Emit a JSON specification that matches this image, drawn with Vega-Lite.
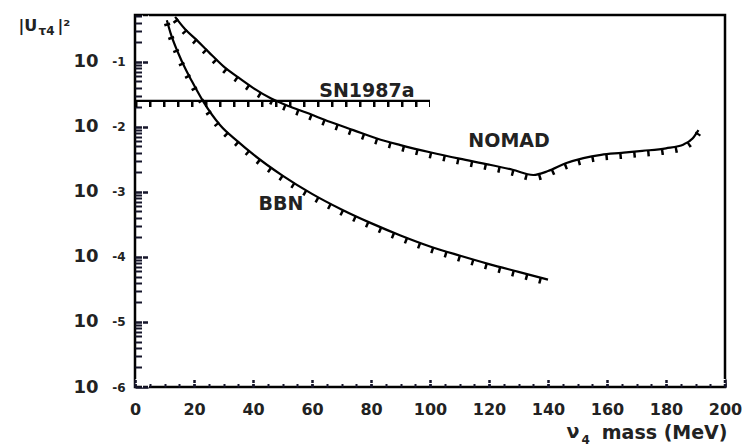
{
  "$schema": "https://vega.github.io/schema/vega-lite/v6.json",
  "width": 590,
  "height": 372,
  "autosize": {"type": "none"},
  "padding": {"left": 135, "top": 15, "right": 23, "bottom": 58},
  "background": "white",
  "config": {
    "view": {"stroke": "black", "strokeWidth": 2.5},
    "axis": {"grid": false, "labelFont": "DejaVu Sans", "labelFontWeight": "bold", "labelColor": "#222", "titleFont": "DejaVu Sans", "titleFontWeight": "bold", "titleColor": "#222", "labelFlush": false, "labelOverlap": false}
  },
  "datasets": {
    "curves": [
      {"limit": "BBN", "mass": 10.8, "u2": 0.437},
      {"limit": "BBN", "mass": 12, "u2": 0.282},
      {"limit": "BBN", "mass": 14.6, "u2": 0.138},
      {"limit": "BBN", "mass": 17, "u2": 0.0794},
      {"limit": "BBN", "mass": 19.3, "u2": 0.0501},
      {"limit": "BBN", "mass": 23, "u2": 0.0251},
      {"limit": "BBN", "mass": 28.8, "u2": 0.0107},
      {"limit": "BBN", "mass": 35, "u2": 0.00589},
      {"limit": "BBN", "mass": 40, "u2": 0.0038},
      {"limit": "BBN", "mass": 50, "u2": 0.00178},
      {"limit": "BBN", "mass": 60, "u2": 0.000933},
      {"limit": "BBN", "mass": 70, "u2": 0.000537},
      {"limit": "BBN", "mass": 80, "u2": 0.000331},
      {"limit": "BBN", "mass": 90, "u2": 0.000214},
      {"limit": "BBN", "mass": 100, "u2": 0.000145},
      {"limit": "BBN", "mass": 110, "u2": 0.000105},
      {"limit": "BBN", "mass": 120, "u2": 0.0000776},
      {"limit": "BBN", "mass": 130, "u2": 0.0000589},
      {"limit": "BBN", "mass": 140, "u2": 0.0000447},
      {"limit": "NOMAD", "mass": 13.6, "u2": 0.49},
      {"limit": "NOMAD", "mass": 17, "u2": 0.316},
      {"limit": "NOMAD", "mass": 21, "u2": 0.214},
      {"limit": "NOMAD", "mass": 25, "u2": 0.141},
      {"limit": "NOMAD", "mass": 30, "u2": 0.0851},
      {"limit": "NOMAD", "mass": 35, "u2": 0.0575},
      {"limit": "NOMAD", "mass": 40, "u2": 0.0398},
      {"limit": "NOMAD", "mass": 46, "u2": 0.0275},
      {"limit": "NOMAD", "mass": 52, "u2": 0.0209},
      {"limit": "NOMAD", "mass": 58, "u2": 0.0166},
      {"limit": "NOMAD", "mass": 66, "u2": 0.012},
      {"limit": "NOMAD", "mass": 74, "u2": 0.00891},
      {"limit": "NOMAD", "mass": 82, "u2": 0.00661},
      {"limit": "NOMAD", "mass": 90, "u2": 0.00525},
      {"limit": "NOMAD", "mass": 100, "u2": 0.00407},
      {"limit": "NOMAD", "mass": 110, "u2": 0.00324},
      {"limit": "NOMAD", "mass": 120, "u2": 0.00263},
      {"limit": "NOMAD", "mass": 128, "u2": 0.00219},
      {"limit": "NOMAD", "mass": 135, "u2": 0.00182},
      {"limit": "NOMAD", "mass": 140, "u2": 0.00209},
      {"limit": "NOMAD", "mass": 146, "u2": 0.00275},
      {"limit": "NOMAD", "mass": 152, "u2": 0.00331},
      {"limit": "NOMAD", "mass": 158, "u2": 0.00372},
      {"limit": "NOMAD", "mass": 165, "u2": 0.00398},
      {"limit": "NOMAD", "mass": 172, "u2": 0.00427},
      {"limit": "NOMAD", "mass": 180, "u2": 0.00468},
      {"limit": "NOMAD", "mass": 186, "u2": 0.00537},
      {"limit": "NOMAD", "mass": 189, "u2": 0.00661},
      {"limit": "NOMAD", "mass": 191, "u2": 0.00891},
      {"limit": "SN1987a", "mass": 0, "u2": 0.0251},
      {"limit": "SN1987a", "mass": 100, "u2": 0.0251}
    ],
    "labels": [
      {"label": "SN1987a", "mass": 78.6, "u2": 0.0358},
      {"label": "NOMAD", "mass": 126.8, "u2": 0.0061},
      {"label": "BBN", "mass": 49.5, "u2": 0.000653}
    ]
  },
  "layer": [
    {
      "data": {"name": "curves"},
      "mark": {"type": "line", "color": "black", "strokeWidth": 2.2, "interpolate": "monotone", "clip": true},
      "encoding": {
        "x": {"field": "mass", "type": "quantitative", "scale": {"domain": [0, 200], "nice": false},
          "axis": {"orient": "bottom", "offset": -8, "values": [0, 20, 40, 60, 80, 100, 120, 140, 160, 180, 200], "domain": true, "domainColor": "white", "domainWidth": 1, "tickColor": "#15152a", "tickSize": 8, "tickWidth": 2.5, "labelPadding": 14, "labelFontSize": 16, "labelBaseline": "top", "labelAlign": "center",
            "title": "ν", "titleX": 431, "titleY": 58, "titleAlign": "left", "titleBaseline": "alphabetic", "titleFontSize": 19}},
        "y": {"field": "u2", "type": "quantitative", "scale": {"type": "log", "domain": [0.000001, 0.525], "nice": false},
          "axis": {"orient": "left", "offset": -13, "values": [0.000001, 0.00001, 0.0001, 0.001, 0.01, 0.1], "domain": true, "domainColor": "white", "domainWidth": 1, "tickColor": "#15152a", "tickSize": 13, "tickWidth": 2.5, "labelExpr": "'10'", "labelPadding": 37, "labelFontSize": 18, "labelAlign": "right", "labelBaseline": "middle",
            "title": "|U", "titleAngle": 0, "titleX": -130, "titleY": 15, "titleAlign": "left", "titleBaseline": "alphabetic", "titleFontSize": 16}},
        "detail": {"field": "limit"}
      }
    },
    {
      "data": {"name": "curves"},
      "mark": {"type": "line", "color": "black", "strokeWidth": 6, "strokeDash": [2.5, 11.5], "yOffset": 3, "interpolate": "monotone", "clip": true},
      "encoding": {
        "x": {"field": "mass", "type": "quantitative",
          "axis": {"orient": "bottom", "offset": -4, "values": [0, 5, 10, 15, 20, 25, 30, 35, 40, 45, 50, 55, 60, 65, 70, 75, 80, 85, 90, 95, 100, 105, 110, 115, 120, 125, 130, 135, 140, 145, 150, 155, 160, 165, 170, 175, 180, 185, 190, 195, 200], "domain": true, "domainColor": "white", "domainWidth": 1, "tickColor": "#15152a", "tickSize": 4, "tickWidth": 2, "labels": false,
            "title": "4", "titleX": 446, "titleY": 60, "titleAlign": "left", "titleBaseline": "alphabetic", "titleFontSize": 12}},
        "y": {"field": "u2", "type": "quantitative",
          "axis": {"orient": "left", "values": [0.000001, 0.00001, 0.0001, 0.001, 0.01, 0.1], "domain": false, "ticks": false, "tickSize": 0, "labelExpr": "'' + round(log(datum.value) / LN10)", "labelPadding": 10, "labelFontSize": 12, "labelAlign": "right", "labelBaseline": "middle", "labelDy": -14,
            "title": "τ4", "titleAngle": 0, "titleX": -97, "titleY": 19, "titleAlign": "left", "titleBaseline": "alphabetic", "titleFontSize": 12}},
        "detail": {"field": "limit"}
      }
    },
    {
      "data": {"name": "labels"},
      "mark": {"type": "text", "font": "DejaVu Sans", "fontWeight": "bold", "fontSize": 19, "color": "#222", "align": "center", "baseline": "middle"},
      "encoding": {
        "x": {"field": "mass", "type": "quantitative",
          "axis": {"orient": "bottom", "domain": false, "ticks": false, "labels": false,
            "title": "mass (MeV)", "titleX": 592, "titleY": 51, "titleAlign": "right", "titleBaseline": "alphabetic", "titleFontSize": 19}},
        "y": {"field": "u2", "type": "quantitative",
          "axis": {"orient": "left", "offset": -7, "values": [0.000002, 0.000003, 0.000004, 0.000005, 0.000006, 0.000007, 0.000008, 0.000009, 0.00002, 0.00003, 0.00004, 0.00005, 0.00006, 0.00007, 0.00008, 0.00009, 0.0002, 0.0003, 0.0004, 0.0005, 0.0006, 0.0007, 0.0008, 0.0009, 0.002, 0.003, 0.004, 0.005, 0.006, 0.007, 0.008, 0.009, 0.02, 0.03, 0.04, 0.05, 0.06, 0.07, 0.08, 0.09, 0.2, 0.3, 0.4, 0.5], "domain": true, "domainColor": "white", "domainWidth": 1, "tickColor": "#15152a", "tickSize": 7, "tickWidth": 2, "labels": false,
            "title": "|²", "titleAngle": 0, "titleX": -85, "titleY": 15, "titleAlign": "left", "titleBaseline": "alphabetic", "titleFontSize": 16}},
        "text": {"field": "label"}
      }
    }
  ],
  "resolve": {"axis": {"x": "independent", "y": "independent"}}
}
